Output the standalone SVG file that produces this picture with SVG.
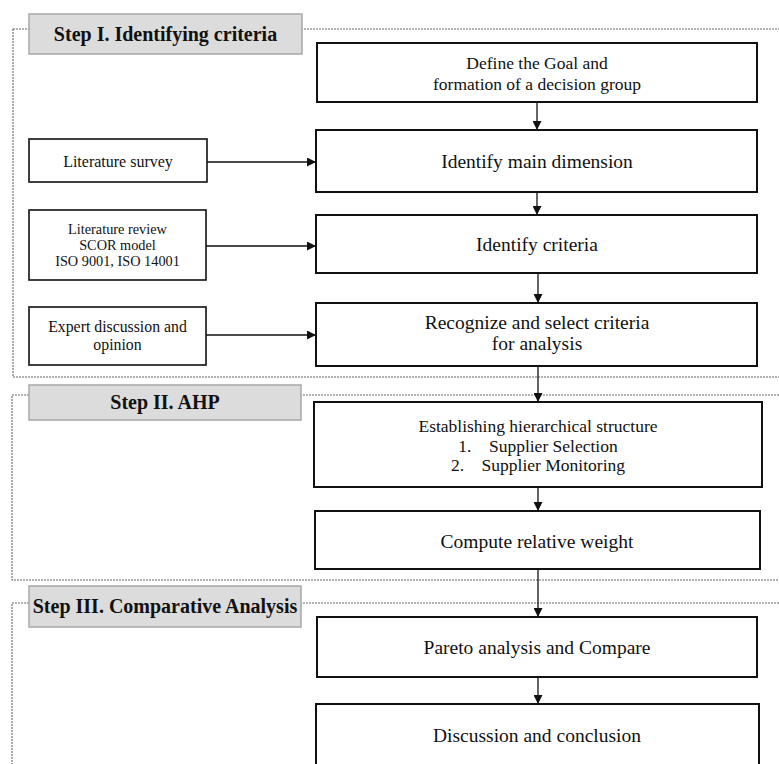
<svg xmlns="http://www.w3.org/2000/svg" width="779" height="764" viewBox="0 0 779 764">
<style>
.frame{fill:none;stroke:#666;stroke-width:1.1;stroke-dasharray:2 1}
.hdr rect{fill:#dcdcdc;stroke:#a8a8a8;stroke-width:1.5}
.hdr text{font-family:"Liberation Serif",serif;font-weight:bold;font-size:20px;fill:#111;text-anchor:middle}
.box rect{fill:#fff;stroke:#111;stroke-width:2}
.side rect{fill:#fff;stroke:#111;stroke-width:1.6}
text{font-family:"Liberation Serif",serif;fill:#111;text-anchor:middle}
.big{font-size:19.5px}
.mid{font-size:17.5px}
.conn line{stroke:#111;stroke-width:1.3;marker-end:url(#ah)}
</style>
<defs>
<marker id="ah" viewBox="0 0 10 10" refX="10" refY="5" markerWidth="9" markerHeight="9" markerUnits="userSpaceOnUse" orient="auto">
<path d="M0,0 L10,5 L0,10 z" fill="#111"/>
</marker>
</defs>
<rect width="779" height="764" fill="#fff"/>
<g id="frames">
<rect class="frame" x="13" y="29" width="790" height="348"/>
<rect class="frame" x="12" y="395" width="790" height="185"/>
<rect class="frame" x="12" y="603" width="790" height="200"/>
</g>
<g id="step1" class="hdr"><rect x="29" y="14" width="273" height="40"/><text x="165.5" y="41">Step I. Identifying criteria</text></g>
<g id="step2" class="hdr"><rect x="29" y="385" width="272" height="35"/><text x="165" y="409">Step II. AHP</text></g>
<g id="step3" class="hdr"><rect x="29" y="586" width="272" height="41"/><text x="165" y="613">Step III. Comparative Analysis</text></g>
<g class="conn" id="connectors">
<line x1="537" y1="102" x2="537" y2="130"/>
<line x1="537" y1="192" x2="537" y2="215"/>
<line x1="538" y1="273" x2="538" y2="303"/>
<line x1="538" y1="366" x2="538" y2="402"/>
<line x1="538" y1="487" x2="538" y2="511"/>
<line x1="538" y1="569" x2="538" y2="617"/>
<line x1="538" y1="677" x2="538" y2="704"/>
<line x1="207" y1="162" x2="316" y2="162"/>
<line x1="206" y1="246" x2="316" y2="246"/>
<line x1="206" y1="335" x2="316" y2="335"/>
</g>
<g id="goal" class="box"><rect x="317" y="43" width="440" height="59"/><text class="mid" x="537" y="69">Define the Goal and</text><text class="mid" x="537" y="90">formation of a decision group</text></g>
<g id="dimension" class="box"><rect x="316" y="130" width="441" height="62"/><text class="big" x="537" y="168">Identify main dimension</text></g>
<g id="criteria" class="box"><rect x="316" y="215" width="441" height="58"/><text class="big" x="537" y="251">Identify criteria</text></g>
<g id="recognize" class="box"><rect x="316" y="303" width="441" height="63"/><text class="big" x="537" y="329">Recognize and select criteria</text><text class="big" x="537" y="350">for analysis</text></g>
<g id="hierarchy" class="box"><rect x="314" y="402" width="448" height="85"/><text class="mid" x="538" y="432">Establishing hierarchical structure</text><text class="mid" x="538" y="452" xml:space="preserve">1.    Supplier Selection</text><text class="mid" x="538" y="471" xml:space="preserve">2.    Supplier Monitoring</text></g>
<g id="weight" class="box"><rect x="315" y="511" width="445" height="58"/><text class="big" x="537" y="548">Compute relative weight</text></g>
<g id="pareto" class="box"><rect x="317" y="617" width="440" height="60"/><text class="big" x="537" y="654">Pareto analysis and Compare</text></g>
<g id="discussion" class="box"><rect x="316" y="704" width="443" height="70"/><text class="big" x="537" y="742">Discussion and conclusion</text></g>
<g id="litsurvey" class="side"><rect x="29" y="139" width="178" height="43"/><text x="118" y="167" font-size="16">Literature survey</text></g>
<g id="litreview" class="side"><rect x="29" y="210" width="177" height="70"/><text x="117.5" y="234" font-size="14.3">Literature review</text><text x="117.5" y="250" font-size="14.3">SCOR model</text><text x="117.5" y="266" font-size="14.3">ISO 9001, ISO 14001</text></g>
<g id="expert" class="side"><rect x="29" y="307" width="177" height="58"/><text x="117.5" y="332" font-size="15.8">Expert discussion and</text><text x="117.5" y="350" font-size="15.8">opinion</text></g>
</svg>
